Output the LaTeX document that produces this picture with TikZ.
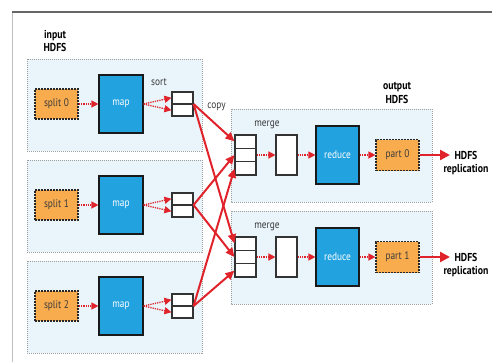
\documentclass[tikz,border=0pt]{standalone}
\usepackage{fontspec}
\setsansfont{PT Sans}[FakeStretch=0.85]
\usepackage{tikz}
\usetikzlibrary{arrows.meta,shadows,calc}

\definecolor{flowred}{HTML}{E0232B}
\definecolor{taskblue}{HTML}{22A2DF}
\definecolor{splitorange}{HTML}{F8AC4E}
\definecolor{panelblue}{HTML}{E9F4FB}
\definecolor{lblgray}{HTML}{3A3A3A}

\tikzset{
  panel/.style={draw=gray!75,fill=panelblue,line width=0.6pt,dash pattern=on 1pt off 1pt},
  splitbox/.style={draw=black!85,fill=splitorange,line width=1.2pt,dash pattern=on 2pt off 1pt,
    minimum width=43pt,minimum height=30pt,inner sep=0pt,text=lblgray},
  taskbox/.style={draw=black!90,fill=taskblue,line width=1.2pt,minimum width=44pt,minimum height=58pt,
    inner sep=0pt,text=white,drop shadow={shadow xshift=1.2pt,shadow yshift=-1.2pt,opacity=0.35}},
  bufbox/.style={draw=black!80,fill=white,line width=1.1pt,minimum width=21pt,inner sep=0pt},
  bufline/.style={draw=black!80,line width=1.1pt},
  lbl/.style={text=lblgray},
  title/.style={font=\sffamily\bfseries\fontsize{11.5}{13.5}\selectfont,align=center,text=black},
  dotarrow/.style={->,draw=flowred,line width=1.3pt,dash pattern=on 1.3pt off 1pt},
  copyarrow/.style={-{Triangle[length=9pt,width=8pt]},draw=flowred,line width=2pt},
  outarrow/.style={-{Triangle[length=10pt,width=10pt]},draw=flowred,line width=2.4pt},
}

\begin{document}
\begin{tikzpicture}[x=1pt,y=-1pt,>={Triangle[length=7pt,width=7pt]},
    font=\sffamily\fontsize{11}{13}\selectfont]
  \useasboundingbox (0,0) rectangle (492,362);
  % frame
  \draw[gray!50,line width=0.8pt] (12,12) -- (12,362);
  \draw[black!60,line width=1.4pt] (12,12) -- (492,12);

  % map side
  \foreach \i/\y in {0/104,1/205,2/306} {
    \draw[panel] (27,\y-45) rectangle (202,\y+47);
    \node[splitbox] (split\i) at (56.5,\y) {split \i};
    \node[taskbox] (map\i) at (121,\y) {map};
    \node[bufbox,minimum height=24pt] (sort\i) at (182.5,\y) {};
    \draw[bufline] (sort\i.west) -- (sort\i.east);
    \draw[dotarrow] (split\i) -- (map\i);
    \draw[dotarrow] (map\i.east) -- ($(sort\i.north west)!0.25!(sort\i.south west)$);
    \draw[dotarrow] (map\i.east) -- ($(sort\i.north west)!0.75!(sort\i.south west)$);
  }

  % reduce side
  \foreach \j/\y in {0/155,1/257} {
    \draw[panel] (231,\y-46) rectangle (432,\y+47);
    \node[bufbox,minimum height=40pt] (merge\j) at (245.5,\y) {};
    \draw[bufline] ($(merge\j.north west)!1/3!(merge\j.south west)$) -- ($(merge\j.north east)!1/3!(merge\j.south east)$);
    \draw[bufline] ($(merge\j.north west)!2/3!(merge\j.south west)$) -- ($(merge\j.north east)!2/3!(merge\j.south east)$);
    \node[bufbox,minimum height=40pt] (buf\j) at (286.5,\y) {};
    \node[taskbox,minimum width=43pt] (reduce\j) at (337.5,\y) {reduce};
    \node[splitbox,minimum height=31pt] (part\j) at (397.5,\y) {part \j};
    \node[lbl] (mergelbl\j) at (267,\y-30) {merge};
    \coordinate (out\j) at (450,\y);
    \node[title] (repl\j) at (466,\y+8) {HDFS\\replication};
    \draw[dotarrow] (merge\j) -- (buf\j);
    \draw[dotarrow] (buf\j) -- (reduce\j);
    \draw[dotarrow] (reduce\j) -- (part\j);
    \draw[outarrow] (part\j) -- (out\j);
  }

  % copy
  \foreach \i in {0,1,2}
    \foreach \j in {0,1}
      \draw[copyarrow] (sort\i.east) -- ($(merge\j.north west)!{(2*\i+1)/6}!(merge\j.south west)$);

  \node[title] (inhdfs) at (55,41) {input\\HDFS};
  \node[title] (outhdfs) at (397,93) {output\\HDFS};
  \node[lbl] (sortlbl) at (159,82) {sort};
  \node[lbl] (copylbl) at (216.5,107) {copy};
\end{tikzpicture}
\end{document}
